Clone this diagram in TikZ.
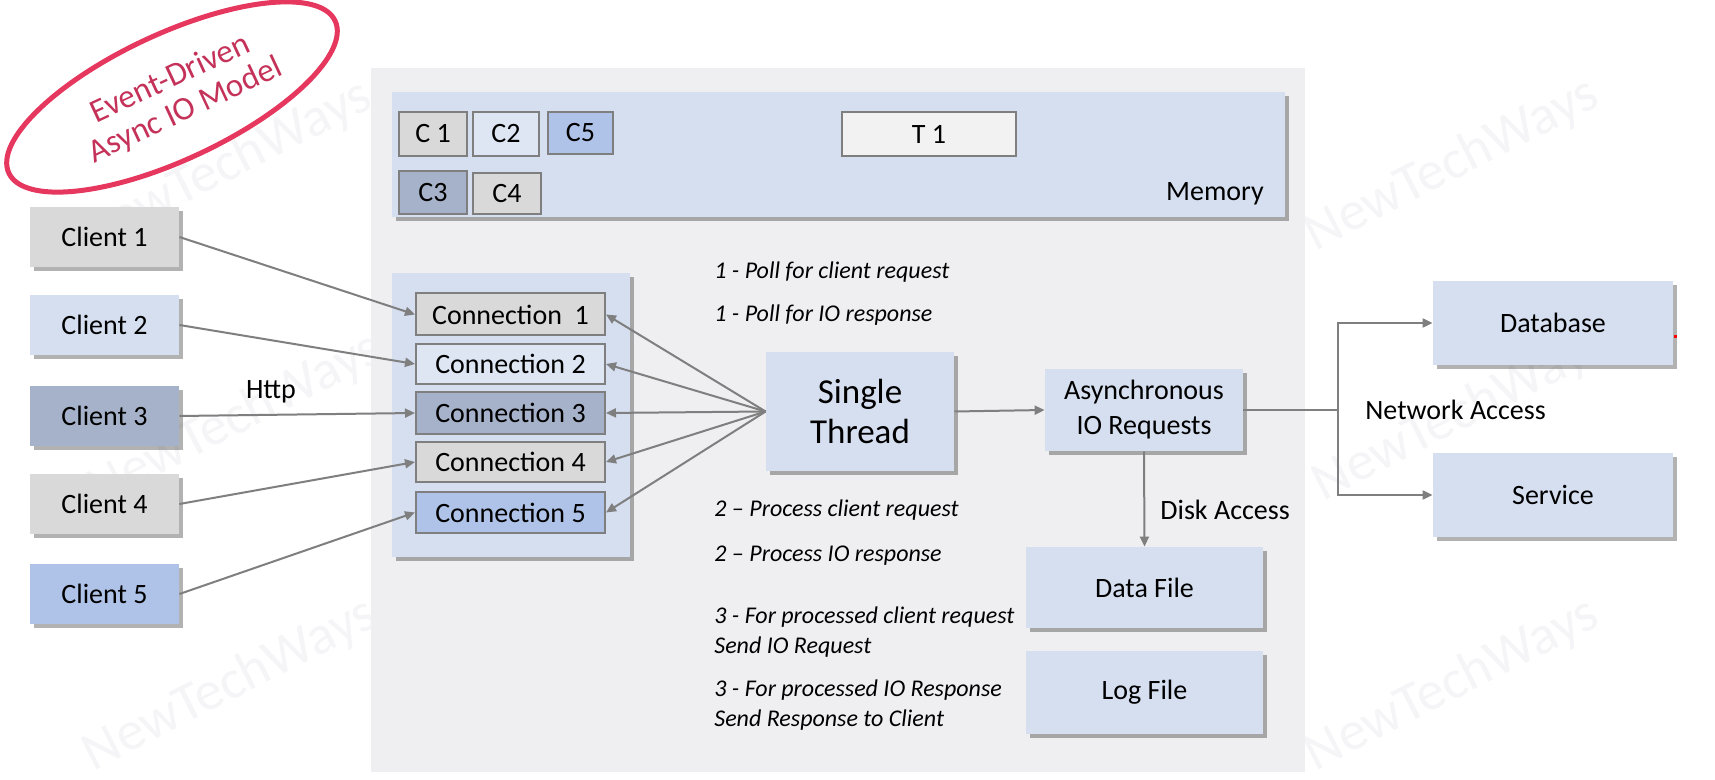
\documentclass[tikz,border=0pt]{standalone}
\usepackage{fontspec}
\setmainfont{Carlito}
\usetikzlibrary{arrows.meta,shadows,shapes.geometric}
\definecolor{panelgray}{HTML}{EFEEF0}
\definecolor{boxblue}{HTML}{D5DFF0}
\definecolor{paleblue}{HTML}{DEE6F3}
\definecolor{midblue}{HTML}{AFC3E8}
\definecolor{slateblue}{HTML}{A6B2C9}
\definecolor{lightgray}{HTML}{D9D9D9}
\definecolor{whitish}{HTML}{F2F2F2}
\definecolor{linegray}{HTML}{7F7F7F}
\definecolor{ovalred}{HTML}{E6375F}
\definecolor{ovaltext}{HTML}{C53259}
\definecolor{wmark}{HTML}{F5F5F7}
\begin{document}
\begin{tikzpicture}[x=0.5pt,y=-0.5pt,
  every node/.style={font=\fontsize{14}{16.8}\selectfont, text=black, inner sep=0pt},
  shadebox/.style={drop shadow={shadow xshift=2pt,shadow yshift=-2pt,opacity=0.3,fill=black}},
  client/.style={rectangle, shadebox, minimum width=74.5pt, minimum height=30pt},
  connbox/.style={rectangle, draw=linegray, line width=1pt, minimum width=94.5pt, minimum height=21pt},
  cbox/.style={rectangle, draw=linegray, line width=1pt, minimum width=34pt, minimum height=22pt},
  bigbox/.style={rectangle, fill=boxblue, shadebox},
  arr/.style={draw=linegray, line width=1pt, -{Triangle[length=5pt,width=4.5pt]}},
  plain/.style={draw=linegray, line width=1pt},
  note/.style={font=\fontsize{12}{15}\selectfont\itshape, anchor=west, align=left},
  wm/.style={text=wmark, rotate=27, font=\fontsize{27.5}{30}\selectfont}
]
\useasboundingbox (0,0) rectangle (1715,780);
\fill[white] (0,0) rectangle (1715,780);

% watermarks
\node[wm] (wm1) at (225,167) {NewTechWays};
\node[wm] (wm2) at (235,420) {NewTechWays};
\node[wm] (wm3) at (230,685) {NewTechWays};
\node[wm] (wm4) at (1452,165) {NewTechWays};
\node[wm] (wm5) at (1460,415) {NewTechWays};
\node[wm] (wm6) at (1452,685) {NewTechWays};

% gray panel
\fill[panelgray] (371,68) rectangle (1305,772);

% oval label
\node[ellipse, draw=ovalred, line width=2.5pt, minimum width=180pt, minimum height=63pt, rotate=25] (oval) at (172,97) {};
\node[rotate=25, text=ovaltext, align=center, font=\fontsize{16.5}{17.5}\selectfont] (ovallabel) at (178,95) {Event-Driven\\Async IO Model};

% memory
\node[bigbox, minimum width=446.5pt, minimum height=62.5pt] (memory) at (838.5,154.5) {};
\node (memlabel) at (1215,194) {Memory};
\node[cbox, fill=lightgray] (mc1) at (433,134) {C 1};
\node[cbox, fill=paleblue, minimum width=33pt] (mc2) at (506,134) {C2};
\node[cbox, fill=midblue, minimum width=32.5pt, minimum height=21pt] (mc5) at (580.5,133) {C5};
\node[cbox, fill=slateblue, minimum height=21.5pt] (mc3) at (433,192.5) {C3};
\node[cbox, fill=lightgray, minimum height=20.5pt] (mc4) at (507,193.5) {C4};
\node[cbox, fill=whitish, minimum width=87pt] (t1) at (929,134) {T 1};

% clients
\node[client, fill=lightgray] (cl1) at (104.5,237) {Client 1};
\node[client, fill=boxblue] (cl2) at (104.5,325) {Client 2};
\node[client, fill=slateblue] (cl3) at (104.5,416) {Client 3};
\node[client, fill=lightgray] (cl4) at (104.5,504) {Client 4};
\node[client, fill=midblue] (cl5) at (104.5,594) {Client 5};

% connections group
\node[bigbox, minimum width=119pt, minimum height=142pt] (conngrp) at (511,415) {};
\node[connbox, fill=lightgray] (cn1) at (510.5,314.5) {Connection\ \ 1};
\node[connbox, fill=paleblue, minimum height=20pt] (cn2) at (510.5,364) {Connection 2};
\node[connbox, fill=slateblue] (cn3) at (510.5,413) {Connection 3};
\node[connbox, fill=lightgray, minimum height=20pt] (cn4) at (510.5,462) {Connection 4};
\node[connbox, fill=midblue, minimum height=20.5pt] (cn5) at (510.5,512.5) {Connection 5};

% main boxes
\node[bigbox, minimum width=94pt, minimum height=59.5pt, align=center, font=\fontsize{17.5}{20}\selectfont] (thread) at (860,411.5) {Single\\Thread};
\node[bigbox, minimum width=99pt, minimum height=41pt, align=center, font=\fontsize{14}{17.5}\selectfont] (async) at (1144,410) {Asynchronous\\IO Requests};
\node[bigbox, minimum width=118.5pt, minimum height=40.5pt] (datafile) at (1144.5,587.5) {Data File};
\node[bigbox, minimum width=118.5pt, minimum height=41.5pt] (logfile) at (1144.5,692.5) {Log File};
\node[bigbox, minimum width=120pt, minimum height=42pt] (db) at (1553,323) {Database};
\node[bigbox, minimum width=120pt, minimum height=42pt] (svc) at (1553,495) {Service};
\fill[red] (1674,335) rectangle (1677,338);

% client connectors
\draw[arr] (cl1.east) -- (cn1.west);
\draw[arr] (cl2.east) -- (cn2.west);
\draw[arr] (cl3.east) -- (cn3.west);
\draw[arr] (cl4.east) -- (cn4.west);
\draw[arr] (cl5.east) -- (cn5.west);
\node (http) at (271,392) {Http};

% thread connectors
\draw[arr] (thread.west) -- (cn1.east);
\draw[arr] (thread.west) -- (cn2.east);
\draw[arr] (thread.west) -- (cn3.east);
\draw[arr] (thread.west) -- (cn4.east);
\draw[arr] (thread.west) -- (cn5.east);
\draw[arr] (thread.east) -- (async.west);

% disk
\draw[arr] (async.south) -- (datafile.north);
\node[anchor=west] (disk) at (1160,510) {Disk Access};

% network
\coordinate (nj) at (1338,410);
\draw[plain] (async.east) -- (nj);
\draw[arr] (nj) |- (db.west);
\draw[arr] (nj) |- (svc.west);
\node[anchor=west] (net) at (1365,410) {Network Access};

% notes
\node[note] (n1) at (714,272) {1 - Poll for client request};
\node[note] (n2) at (714,315) {1 - Poll for IO response};
\node[note] (n3) at (714,510) {2 -- Process client request};
\node[note] (n4) at (714,556) {2 -- Process IO response};
\node[note] (n5) at (714,632) {3 - For processed client request\\Send IO Request};
\node[note] (n6) at (714,705.5) {3 - For processed IO Response\\Send Response to Client};
\end{tikzpicture}
\end{document}
